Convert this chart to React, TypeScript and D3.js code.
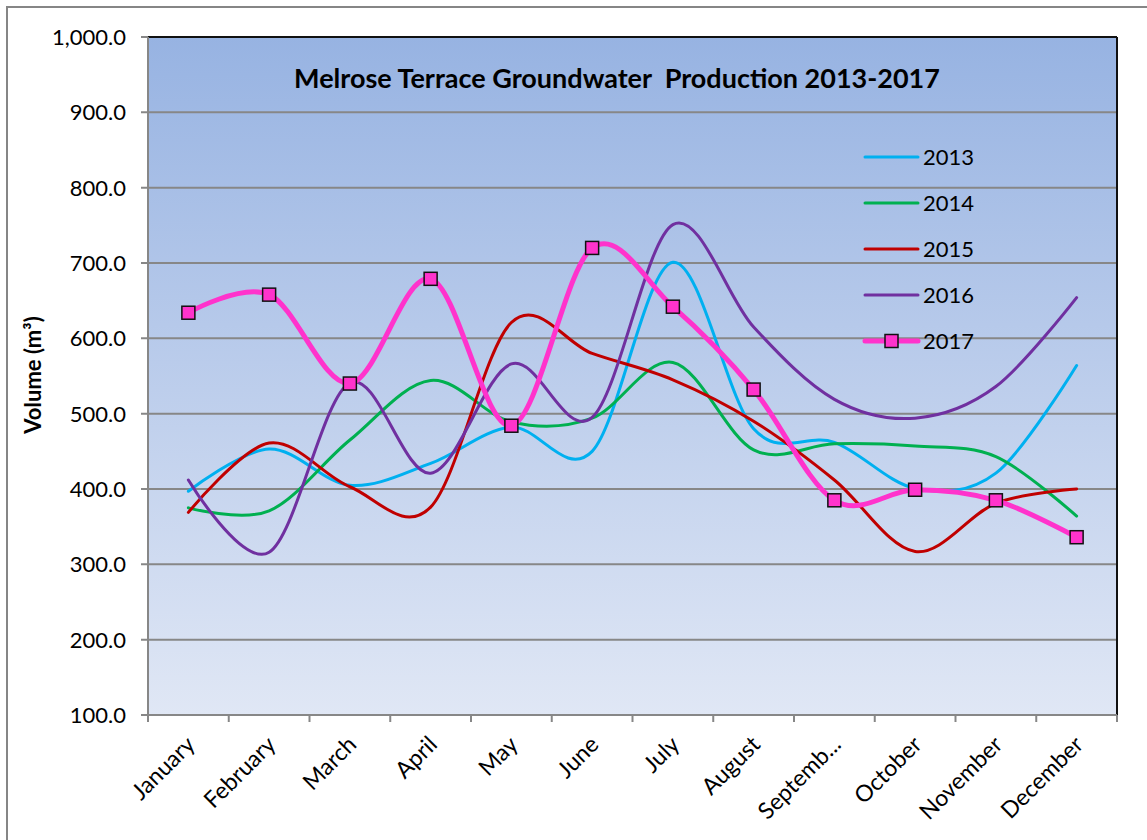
import React from 'react';
import * as d3 from 'd3';

const months = ['January', 'February', 'March', 'April', 'May', 'June', 'July', 'August', 'Septemb...', 'October', 'November', 'December'];
const yTicks = [100, 200, 300, 400, 500, 600, 700, 800, 900, 1000];

const v2013 = [397, 453, 405, 434, 482, 450, 701, 480, 462, 401, 421, 564];
const v2014 = [375, 371, 465, 544, 489, 494, 568, 452, 460, 457, 443, 364];
const v2015 = [369, 461, 403, 376, 621, 580, 545, 490, 412, 317, 381, 400];
const v2016 = [412, 316, 541, 421, 566, 495, 751, 615, 519, 494, 536, 654];
const v2017 = [634, 658, 540, 679, 484, 720, 642, 532, 385, 399, 385, 336];

const seriesNames = ['2013', '2014', '2015', '2016', '2017'];
const seriesColors = ['#00b0f0', '#00b050', '#c00000', '#7030a0', '#ff33cc'];

const W = 1147;
const H = 840;
const plot = { left: 148, top: 37, right: 1117, bottom: 715 };
const FONT = 'Lato, "Open Sans", sans-serif';

const App: React.FC = () => {
  const x = d3.scaleBand<string>().domain(months).range([plot.left, plot.right]);
  const y = d3.scaleLinear().domain([100, 1000]).range([plot.bottom, plot.top]);
  const cx = (m: string) => (x(m) ?? 0) + x.bandwidth() / 2;

  const line = d3.line<number>()
    .x((_, i) => cx(months[i]))
    .y(d => y(d))
    .curve(d3.curveCardinal.tension(0));

  const series = [v2013, v2014, v2015, v2016, v2017];
  const fmt = d3.format(',.1f');
  const boundaries = [...months.map(m => x(m) ?? 0), plot.right];

  return (
    <svg width={W} height={H} style={{ position: 'absolute', left: 0, top: 0, background: '#fff' }}>
      <defs>
        <linearGradient id="plotBg" x1="0" y1="0" x2="0" y2="1">
          <stop offset="0%" stopColor="#97b3e2" />
          <stop offset="100%" stopColor="#e0e7f5" />
        </linearGradient>
      </defs>

      {/* outer chart frame */}
      <rect x={7} y={7} width={1160} height={860} fill="none" stroke="#868686" strokeWidth={2} />

      {/* plot area */}
      <rect x={plot.left} y={plot.top} width={plot.right - plot.left} height={plot.bottom - plot.top} fill="url(#plotBg)" />
      {yTicks.map(t => (
        <line key={'g' + t} x1={plot.left - 7} x2={plot.right} y1={y(t)} y2={y(t)} stroke="#878787" strokeWidth={2} />
      ))}
      <line x1={plot.left} x2={plot.right} y1={plot.top} y2={plot.top} stroke="#111" strokeWidth={2} />
      <line x1={plot.right} x2={plot.right} y1={plot.top} y2={plot.bottom} stroke="#111" strokeWidth={2} />
      <line x1={plot.left} x2={plot.left} y1={plot.top} y2={plot.bottom} stroke="#878787" strokeWidth={2} />
      <line x1={plot.left} x2={plot.right} y1={plot.bottom} y2={plot.bottom} stroke="#878787" strokeWidth={2} />
      {boundaries.map((b, i) => (
        <line key={'t' + i} x1={b} x2={b} y1={plot.bottom} y2={plot.bottom + 7} stroke="#878787" strokeWidth={2} />
      ))}

      {/* y tick labels */}
      {yTicks.map(t => (
        <text key={'yl' + t} x={126} y={y(t) + 8} textAnchor="end" fontFamily={FONT} fontSize={22} fill="#000">
          {fmt(t)}
        </text>
      ))}

      {/* x tick labels */}
      {months.map(m => (
        <text key={'xl' + m} transform={`translate(${cx(m) + 8},${plot.bottom + 31}) rotate(-45)`} textAnchor="end"
          fontFamily={FONT} fontSize={23} fill="#000">
          {m}
        </text>
      ))}

      {/* axis title */}
      <text transform={`translate(41,375) rotate(-90)`} textAnchor="middle" fontFamily={FONT} fontSize={22} fontWeight="bold">
        Volume (m³)
      </text>

      {/* chart title */}
      <text x={617} y={88} textAnchor="middle" fontFamily={FONT} fontSize={27} fontWeight="bold" style={{ whiteSpace: 'pre' }}>
        {'Melrose Terrace Groundwater  Production 2013-2017'}
      </text>

      {/* series lines */}
      {series.map((s, i) => (
        <path key={'s' + i} d={line(s) ?? ''} fill="none" stroke={seriesColors[i]} strokeWidth={i === 4 ? 5 : 3} strokeLinecap="round" />
      ))}
      {v2017.map((v, i) => (
        <rect key={'m' + i} x={cx(months[i]) - 6.5} y={y(v) - 6.5} width={13} height={13} fill="#ff33cc" stroke="#111" strokeWidth={1.5} />
      ))}

      {/* legend */}
      {seriesNames.map((n, i) => {
        const ly = 157 + i * 46;
        return (
          <g key={'lg' + n}>
            <line x1={865} x2={918} y1={ly} y2={ly} stroke={seriesColors[i]} strokeWidth={i === 4 ? 5 : 3} strokeLinecap="round" />
            {i === 4 && <rect x={885} y={ly - 6.5} width={13} height={13} fill="#ff33cc" stroke="#111" strokeWidth={1.5} />}
            <text x={923} y={ly + 8} fontFamily={FONT} fontSize={22} fill="#000">{n}</text>
          </g>
        );
      })}
    </svg>
  );
};

export default App;
